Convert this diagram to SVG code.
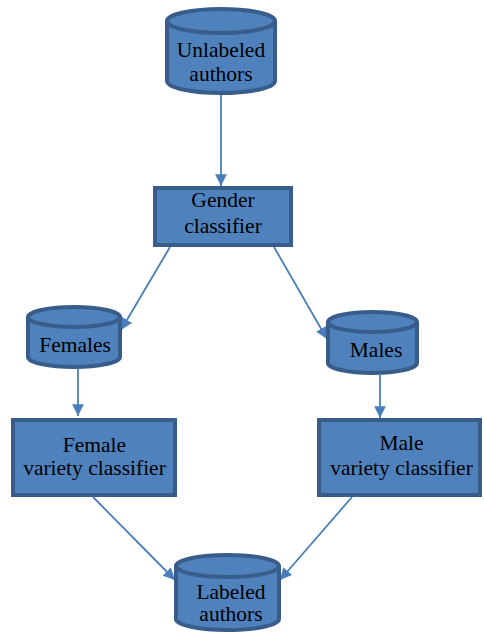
<svg xmlns="http://www.w3.org/2000/svg" width="484" height="634" viewBox="0 0 484 634">
  <style>
    .shape { fill: #4f81bd; stroke: #385d8a; stroke-width: 4; }
    .lid { fill: #4f81bd; stroke: #385d8a; stroke-width: 4; }
    .label { font-family: "Liberation Serif", "Times New Roman", Tinos, "DejaVu Serif", serif; font-size: 21.5px; fill: #000; text-anchor: middle; }
    .edge { fill: none; stroke: #4a7ebb; stroke-width: 1.8; marker-end: url(#arrow); }
  </style>
  <defs>
    <marker id="arrow" viewBox="0 0 10 10" refX="10" refY="5" markerWidth="7" markerHeight="6.5" markerUnits="strokeWidth" orient="auto">
      <path d="M0,0 L10,5 L0,10 Z" fill="#4a7ebb"/>
    </marker>
  </defs>
  <rect width="484" height="634" fill="#ffffff"/>

  <g id="connectors">
    <line class="edge" x1="221" y1="95" x2="221" y2="186"/>
    <line class="edge" x1="170" y1="247" x2="121" y2="330"/>
    <line class="edge" x1="274" y1="247" x2="327" y2="339"/>
    <line class="edge" x1="78" y1="369" x2="78" y2="416"/>
    <line class="edge" x1="380" y1="375" x2="380" y2="418"/>
    <line class="edge" x1="93" y1="497" x2="175" y2="580"/>
    <line class="edge" x1="352" y1="497" x2="280" y2="580"/>
  </g>

  <g id="unlabeled-authors">
    <path class="shape" d="M167,21 L167,81 A54,12 0 0 0 275,81 L275,21"/>
    <ellipse class="lid" cx="221" cy="21" rx="54" ry="12"/>
    <text class="label" x="221" y="57">Unlabeled</text>
    <text class="label" x="221" y="81">authors</text>
  </g>

  <g id="gender-classifier">
    <rect class="shape" x="155" y="188" width="136" height="57"/>
    <text class="label" x="223" y="207">Gender</text>
    <text class="label" x="223" y="233">classifier</text>
  </g>

  <g id="females">
    <path class="shape" d="M28,317 L28,357 A46,10 0 0 0 120,357 L120,317"/>
    <ellipse class="lid" cx="74" cy="317" rx="46" ry="10"/>
    <text class="label" x="75" y="352">Females</text>
  </g>

  <g id="males">
    <path class="shape" d="M328,322 L328,363 A44.5,10 0 0 0 417,363 L417,322"/>
    <ellipse class="lid" cx="372.5" cy="322" rx="44.5" ry="10"/>
    <text class="label" x="376" y="357">Males</text>
  </g>

  <g id="female-variety-classifier">
    <rect class="shape" x="13" y="420" width="162" height="75"/>
    <text class="label" x="94.5" y="452">Female</text>
    <text class="label" x="94.5" y="475">variety classifier</text>
  </g>

  <g id="male-variety-classifier">
    <rect class="shape" x="319" y="420" width="161" height="75"/>
    <text class="label" x="401.5" y="450">Male</text>
    <text class="label" x="401.5" y="475">variety classifier</text>
  </g>

  <g id="labeled-authors">
    <path class="shape" d="M176,566 L176,619 A51.5,11 0 0 0 279,619 L279,566"/>
    <ellipse class="lid" cx="227.5" cy="566" rx="51.5" ry="11"/>
    <text class="label" x="231" y="599">Labeled</text>
    <text class="label" x="231" y="621">authors</text>
  </g>
</svg>
